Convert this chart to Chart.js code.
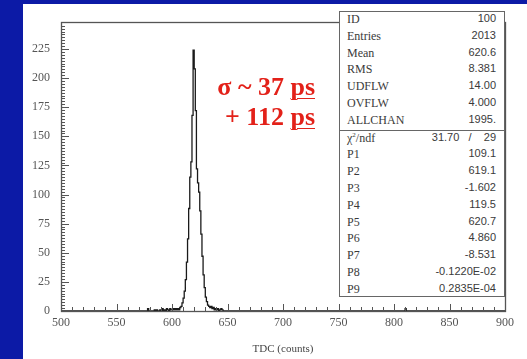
<!DOCTYPE html>
<html>
<head>
<meta charset="utf-8">
<script src="https://cdn.jsdelivr.net/npm/chart.js@4.4.1/dist/chart.umd.min.js"></script>
<style>
html, body { margin: 0; padding: 0; }
body { width: 527px; height: 359px; background: #0c1aa6; position: relative; overflow: hidden; }
#panel { position: absolute; left: 23px; top: 4px; width: 504px; height: 355px; background: #fff; }
#panel canvas { position: absolute; left: 0; top: 0; }
#note { position: absolute; right: 212px; top: 68px; text-align: right; color: #e32119;
  font: bold 26px "Liberation Serif", serif; line-height: 30px; white-space: nowrap; }
#note u { text-decoration-thickness: 1px; text-underline-offset: 3px; }
#stats { position: absolute; left: 316px; top: 7px; width: 164px; height: 284px; border: 1px solid #666;
  background: #fff; color: #3a3a3a; }
.sec { border-bottom: 1px solid #666; }
.row { display: flex; justify-content: space-between; height: 16.8px; line-height: 16.8px; padding: 0 8px 0 7px; }
.row .k { font: 12px "Liberation Serif", serif; }
.row .v { font: 11px "Liberation Sans", sans-serif; white-space: pre; }
</style>
</head>
<body>
<div id="panel">
  <canvas id="histo" width="504" height="355"></canvas>
  <div id="note">σ ~ 37 <u>ps</u><br>+ 112 <u>ps</u></div>
  <div id="stats"></div>
</div>
<script>
// axis tick labels
var xTickValues = [500, 550, 600, 650, 700, 750, 800, 850, 900];
var yTickValues = [0, 25, 50, 75, 100, 125, 150, 175, 200, 225];

// TDC bins (lower edges, 1 count wide) and entries
var tdcBins = [575, 576, 577, 578, 579, 580, 581, 582, 583, 584, 585, 586, 587, 588, 589,
  590, 591, 592, 593, 594, 595, 596, 597, 598, 599, 600, 601, 602, 603, 604, 605, 606, 607,
  608, 609, 610, 611, 612, 613, 614, 615, 616, 617, 618, 619, 620, 621, 622, 623, 624, 625,
  626, 627, 628, 629, 630, 631, 632, 633, 634, 635, 636, 637, 638, 639, 640, 641, 642, 643,
  644, 645, 646, 647, 648, 649];
var tdcCounts = [0, 0, 0, 2, 0, 0, 0, 0, 0, 1, 0, 1, 0, 0, 1,
  0, 2, 0, 1, 0, 2, 1, 0, 2, 1, 1, 2, 1, 2, 1, 2, 1, 3,
  4, 7, 11, 17, 27, 42, 62, 88, 115, 128, 168, 224, 208, 172, 122, 110, 102, 86,
  66, 47, 31, 20, 12, 8, 5, 4, 3, 4, 2, 3, 1, 2, 1, 2, 0, 1,
  2, 1, 0, 0, 0, 0];
var strayBins = [810];
var strayCounts = [2];

// statistics box
var statLabels = ["ID", "Entries", "Mean", "RMS", "UDFLW", "OVFLW", "ALLCHAN"];
var statValues = ["100", "2013", "620.6", "8.381", "14.00", "4.000", "1995."];
var chi2 = "31.70", ndf = "29";
var fitLabels = ["P1", "P2", "P3", "P4", "P5", "P6", "P7", "P8", "P9"];
var fitValues = ["109.1", "619.1", "-1.602", "119.5", "620.7", "4.860", "-8.531", "-0.1220E-02", "0.2835E-04"];

function row(k, v) {
    return '<div class="row"><span class="k">' + k + '</span><span class="v">' + v + '</span></div>';
}
var html = '<div class="sec">';
statLabels.forEach(function (k, i) { html += row(k, statValues[i]); });
html += '</div><div>';
html += row('χ<sup style="font-size:7px">2</sup>/ndf', chi2 + '   /    ' + ndf);
fitLabels.forEach(function (k, i) { html += row(k, fitValues[i]); });
html += '</div>';
document.getElementById('stats').innerHTML = html;

// histogram outline as step points
var points = [{x: 500, y: 0}];
tdcBins.forEach(function (b, i) { points.push({x: b, y: tdcCounts[i]}); });
points.push({x: tdcBins[tdcBins.length - 1] + 1, y: 0});
strayBins.forEach(function (b, i) {
    points.push({x: b, y: strayCounts[i]});
    points.push({x: b + 1, y: 0});
});
points.push({x: 900, y: 0});

var frameTicks = {
    id: 'frameTicks',
    afterDatasetsDraw: function (chart) {
        var ctx = chart.ctx, a = chart.chartArea, x = chart.scales.x, y = chart.scales.y;
        ctx.save();
        ctx.strokeStyle = '#555';
        ctx.lineWidth = 1;
        ctx.beginPath();
        for (var v = 0; v <= 245; v += 2.5) {
            var py = Math.round(y.getPixelForValue(v)) + 0.5;
            var len = (v % 25 === 0) ? 8 : 4;
            ctx.moveTo(a.left, py);
            ctx.lineTo(a.left + len, py);
        }
        for (var u = 500; u <= 900; u += 10) {
            var px = Math.round(x.getPixelForValue(u)) + 0.5;
            var l2 = (u % 50 === 0) ? 7 : 4;
            ctx.moveTo(px, a.bottom);
            ctx.lineTo(px, a.bottom - l2);
        }
        ctx.stroke();
        ctx.lineWidth = 1.3;
        ctx.strokeRect(Math.round(a.left) + 0.5, Math.round(a.top) + 0.5,
            Math.round(a.right - a.left), Math.round(a.bottom - a.top));
        ctx.restore();
    }
};

var tickFont = {family: '"Liberation Serif", serif', size: 12};

new Chart(document.getElementById('histo'), {
    type: 'line',
    data: {
        datasets: [{
            data: points,
            stepped: true,
            borderColor: '#1a1a1a',
            borderWidth: 1.3,
            pointRadius: 0,
            fill: false
        }]
    },
    options: {
        responsive: false,
        animation: false,
        layout: {padding: {top: 7, right: 22, left: 0, bottom: 0}},
        plugins: {legend: {display: false}, tooltip: {enabled: false}},
        scales: {
            x: {
                type: 'linear', min: 500, max: 900,
                afterBuildTicks: function (s) { s.ticks = xTickValues.map(function (v) { return {value: v}; }); },
                afterFit: function (s) { s.height = 48; },
                grid: {display: false, drawTicks: false},
                border: {display: false},
                ticks: {color: '#555', font: tickFont, padding: 5, maxRotation: 0},
                title: {display: true, text: 'TDC (counts)', color: '#444',
                    font: {family: '"Liberation Serif", serif', size: 11}, padding: {top: 0, bottom: 3}}
            },
            y: {
                type: 'linear', min: 0, max: 248,
                afterBuildTicks: function (s) { s.ticks = yTickValues.map(function (v) { return {value: v}; }); },
                afterFit: function (s) { s.width = 38; },
                grid: {display: false, drawTicks: false},
                border: {display: false},
                ticks: {color: '#555', font: tickFont, padding: 11}
            }
        }
    },
    plugins: [frameTicks]
});
</script>
</body>
</html>
